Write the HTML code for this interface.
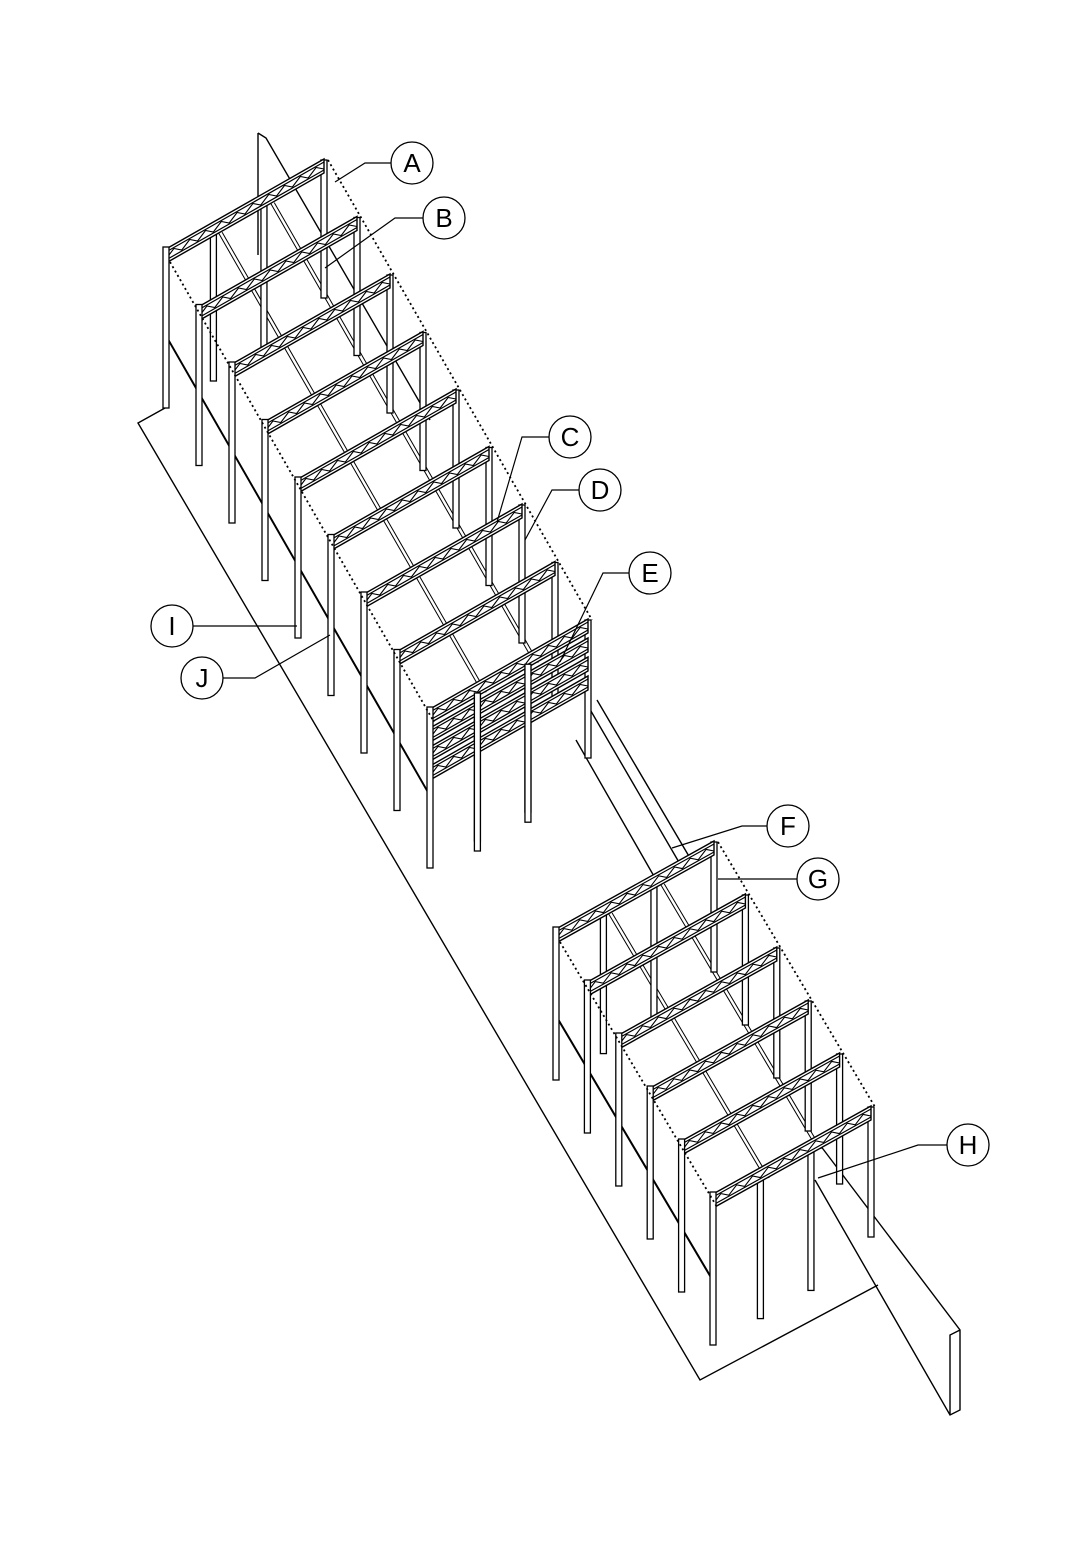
<!DOCTYPE html>
<html><head><meta charset="utf-8"><style>
html,body{margin:0;padding:0;background:#fff}
svg{display:block}
text{font-family:"Liberation Sans",sans-serif;font-size:26px;fill:#000}
</style></head><body>
<svg id="s" width="1080" height="1541" viewBox="0 0 1080 1541" xmlns="http://www.w3.org/2000/svg">
<g id="base" stroke="#000" stroke-width="1.4" fill="none">
<polyline points="165,408 138,423 700,1380 878,1285"/>
<path d="M258,133 L258,255 M258,133 L266,138 L430,420"/>
<path d="M597,700 L690,858 M588,706 L680,864 M576,740 L655,878"/>
<path d="M820,1145 L960,1330 L960,1410 L950,1415 L815,1180 M950,1415 L950,1335 L960,1330"/>
</g>
<g id="g" stroke="#000" fill="none"></g>
<g stroke="#000" stroke-width="1.3" fill="#fff">
<circle cx="412" cy="163" r="21"/><circle cx="444" cy="218" r="21"/>
<circle cx="570" cy="437" r="21"/><circle cx="600" cy="490" r="21"/>
<circle cx="650" cy="573" r="21"/><circle cx="788" cy="826" r="21"/>
<circle cx="818" cy="879" r="21"/><circle cx="968" cy="1145" r="21"/>
<circle cx="172" cy="626" r="21"/><circle cx="202" cy="678" r="21"/>
</g>
<g stroke="#000" stroke-width="1.2" fill="none">
<polyline points="391,163 365,163 335,182"/>
<polyline points="423,218 395,218 325,268"/>
<polyline points="549,437 522,437 497,522"/>
<polyline points="579,490 552,490 525,540"/>
<polyline points="629,573 603,573 560,662"/>
<polyline points="767,826 742,826 672,848"/>
<polyline points="797,879 718,879"/>
<polyline points="947,1145 918,1145 818,1178"/>
<polyline points="193,626 297,626"/>
<polyline points="223,678 255,678 330,635"/>
</g>
<g text-anchor="middle">
<text x="412" y="172">A</text><text x="444" y="227">B</text>
<text x="570" y="446">C</text><text x="600" y="499">D</text>
<text x="650" y="582">E</text><text x="788" y="835">F</text>
<text x="818" y="888">G</text><text x="968" y="1154">H</text>
<text x="172" y="635">I</text><text x="202" y="687">J</text>
</g>
</svg>
<script>
var g=document.getElementById('g'),o='';
function L(a,b,c,d,w,da){o+='<line x1="'+a+'" y1="'+b+'" x2="'+c+'" y2="'+d+'" stroke-width="'+(w||1.2)+'"'+(da?' stroke-dasharray="'+da+'"':'')+'/>';}
function col(x,y,h){o+='<rect x="'+(x-3)+'" y="'+y+'" width="6" height="'+h+'" fill="#fff" stroke-width="1.3"/>';}
function truss(lx,ly,vx,vy,off){
 var y0=ly+off;
 o+='<polygon points="'+lx+','+(y0-1)+' '+(lx+vx)+','+(y0+vy-1)+' '+(lx+vx)+','+(y0+vy+13)+' '+lx+','+(y0+13)+'" fill="#fff" stroke-width="1.4"/>';
 L(lx,y0+2,lx+vx,y0+vy+2,1.2);L(lx,y0+10,lx+vx,y0+vy+10,1.2);
 var n=20,p='';
 for(var i=0;i<=n;i++){var t=i/n,x=lx+vx*t,y=y0+vy*t+(i%2?3:9);p+=x+','+y+' ';}
 o+='<polyline points="'+p+'" stroke-width="1.1"/>';
}
function group(L0x,L0y,sx,sy,n,vx,vy,h,extra){
 var i;
 for(var k=0;k<2;k++){var t=[0.33,0.66][k];
  L(L0x+vx*t,L0y+vy*t+12,L0x+vx*t+sx*(n-1),L0y+vy*t+12+sy*(n-1),1);
  L(L0x+vx*t+4,L0y+vy*t+12,L0x+vx*t+4+sx*(n-1),L0y+vy*t+12+sy*(n-1),1);}
 L(L0x,L0y+85,L0x+sx*(n-1),L0y+85+sy*(n-1),1.2);
 L(L0x+2,L0y+90,L0x+2+sx*(n-1),L0y+90+sy*(n-1),1.2);
 for(i=0;i<n;i++){
  var lx=L0x+sx*i,ly=L0y+sy*i;
  col(lx+vx,ly+vy,h-20);
  if(i==0||i==n-1){col(lx+vx*0.3,ly+vy*0.3+10,h-10);col(lx+vx*0.62,ly+vy*0.62+10,h-10);}
  truss(lx,ly,vx,vy,0);
  if(extra&&i==n-1){for(var e=1;e<4;e++)truss(lx,ly,vx,vy,e*19);col(lx+vx*0.3,ly+vy*0.3+10,h);col(lx+vx*0.62,ly+vy*0.62+10,h);}
  col(lx,ly-3,h+3);
 }
 L(L0x+4,L0y+12,L0x+4+sx*(n-1),L0y+12+sy*(n-1),1.8,'2,3');
 L(L0x+vx+4,L0y+vy,L0x+vx+4+sx*(n-1),L0y+vy+sy*(n-1),1.8,'2,3');
}
group(166,250,33,57.5,9,158,-90,158,true);
group(556,930,31.4,53,6,158,-88,150,false);
g.innerHTML=o;
</script>
</body></html>
